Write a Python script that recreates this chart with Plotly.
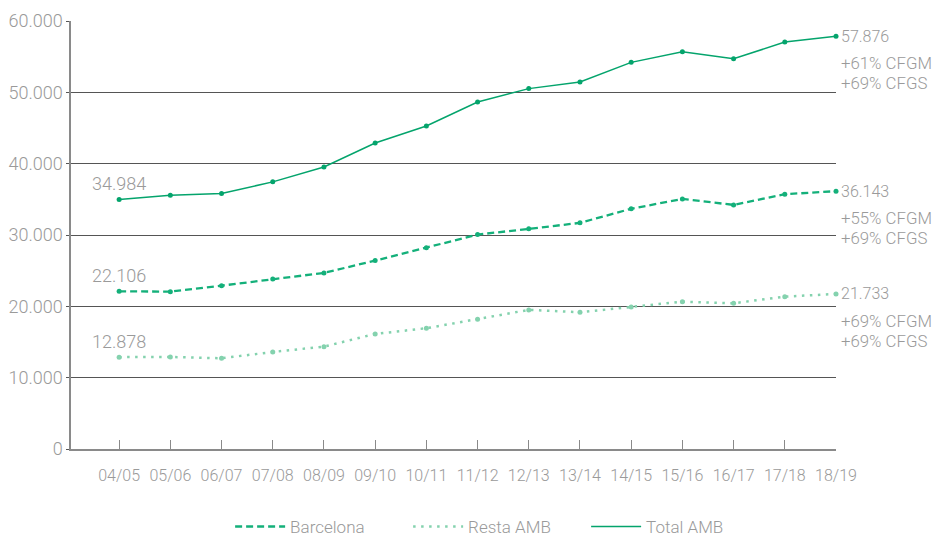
import plotly.graph_objects as go

categories = ["04/05", "05/06", "06/07", "07/08", "08/09", "09/10", "10/11", "11/12",
              "12/13", "13/14", "14/15", "15/16", "16/17", "17/18", "18/19"]
total_amb = [34984, 35580, 35810, 37450, 39540, 42900, 45280, 48640,
             50520, 51440, 54200, 55680, 54700, 57040, 57876]
barcelona = [22106, 22060, 22900, 23840, 24685, 26410, 28230, 30060,
             30860, 31700, 33680, 35060, 34220, 35720, 36143]
resta_amb = [12878, 12900, 12720, 13600, 14350, 16130, 16930, 18190,
             19500, 19170, 19900, 20660, 20430, 21360, 21733]
growth_total = ["+61% CFGM", "+69% CFGS"]
growth_bcn = ["+55% CFGM", "+69% CFGS"]
growth_resta = ["+69% CFGM", "+69% CFGS"]
y_ticks = [0, 10000, 20000, 30000, 40000, 50000, 60000]

FONT = "Roboto"
GRAY = "#9a9a9a"
C_TOTAL = "#04a46c"
C_BCN = "#14b07a"
C_RESTA = "#84d2ae"

def fmt(v):
    return f"{v:,}".replace(",", ".")

def tfont(size):
    return dict(family=FONT, size=size, color=GRAY, weight=300)

fig = go.Figure()
series_list = [
    ("Barcelona", barcelona, C_BCN, "7px,4px", 2.3),
    ("Resta AMB", resta_amb, C_RESTA, "2.5px,5.5px", 2.5),
    ("Total AMB", total_amb, C_TOTAL, "solid", 1.5),
]
for name, data, col, dash, w in series_list:
    fig.add_trace(go.Scatter(x=categories, y=data, name=name, mode="lines",
                             line=dict(color=col, width=w, dash=dash),
                             cliponaxis=False, showlegend=True))
for name, data, col, dash, w in series_list:
    fig.add_trace(go.Scatter(x=categories, y=data, name=name, mode="markers",
                             marker=dict(size=5, color=col), cliponaxis=False,
                             showlegend=False))

ann = []
for series in [total_amb, barcelona, resta_amb]:
    ann.append(dict(x=categories[0], y=series[0], text=fmt(series[0]), showarrow=False,
                    xanchor="center", yanchor="middle", yshift=16, font=tfont(18)))
for series, notes in [(total_amb, growth_total), (barcelona, growth_bcn), (resta_amb, growth_resta)]:
    ann.append(dict(x=categories[-1], y=series[-1], text=fmt(series[-1]), showarrow=False,
                    xanchor="left", yanchor="middle", xshift=3, font=tfont(16)))
    for i, note in enumerate(notes):
        ann.append(dict(x=categories[-1], y=series[-1], text=note, showarrow=False,
                        xanchor="left", yanchor="middle", xshift=3, yshift=-27 - 20 * i,
                        font=tfont(16.8)))

# page body has an 8px margin: figure is sized/offset so the plot lands as in the reference
fig.update_layout(
    width=927, height=535,
    margin=dict(l=63, r=99, t=13, b=94),
    paper_bgcolor="white", plot_bgcolor="white",
    separators=",.",
    font=tfont(15),
    showlegend=True,
    legend=dict(orientation="h", x=0.208, xanchor="left",
                yref="container", y=0.03, yanchor="middle",
                font=tfont(17), itemwidth=50, tracegroupgap=0,
                entrywidth=113, entrywidthmode="pixels"),
    annotations=ann,
)
fig.update_xaxes(type="category", range=[-0.94, 14], showgrid=False, automargin=False,
                 showline=True, linecolor="#8a8a8a", linewidth=1.5,
                 ticks="inside", ticklen=9, tickcolor="#8a8a8a", tickwidth=1.2,
                 ticklabelstandoff=11, tickfont=tfont(16), fixedrange=True)
fig.update_yaxes(range=[0, 60000], tickvals=y_ticks, automargin=False,
                 ticktext=[fmt(v) for v in y_ticks],
                 showgrid=True, gridcolor="#555555", gridwidth=1,
                 showline=True, linecolor="#8a8a8a", linewidth=1.5,
                 ticks="outside", ticklen=3, tickcolor="#555555",
                 zeroline=False, tickfont=tfont(18))

fig.write_html("out.html")
